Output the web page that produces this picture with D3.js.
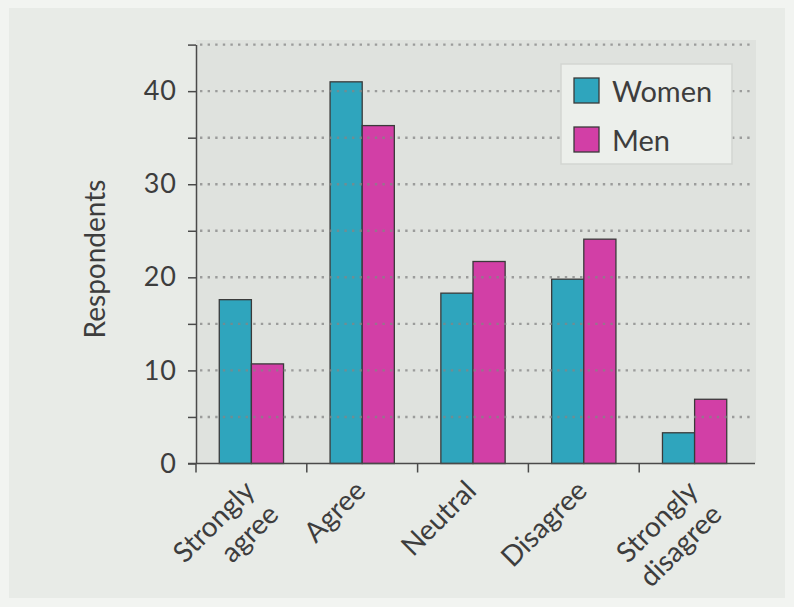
<!DOCTYPE html>
<html>
<head>
<meta charset="utf-8">
<script src="https://cdn.jsdelivr.net/npm/d3@7"></script>
<style>
  body { margin: 0; background: #f2f4f1; }
  text { font-family: Lato, "Open Sans", sans-serif; fill: #3d3d3d; }
</style>
</head>
<body>
<div id="chart"></div>
<script>
//chart data
var categories = ["Strongly agree", "Agree", "Neutral", "Disagree", "Strongly disagree"]
var groups = ["Women", "Men"]
var women = [17.6, 41.0, 18.3, 19.8, 3.3]
var men = [10.7, 36.3, 21.7, 24.1, 6.9]
var yTicks = [0, 5, 10, 15, 20, 25, 30, 35, 40, 45]

var colors = {Women: "#2fa5bd", Men: "#d23fa6"}

var width = 794, height = 607
var margin = {top: 44.6, right: 44, bottom: 143.5, left: 196}

var svg = d3.select("#chart").append("svg")
    .attr("width", width)
    .attr("height", height)

//background and card
svg.append("rect").attr("width", width).attr("height", height).attr("fill", "#f2f4f1")
svg.append("rect").attr("x", 9).attr("y", 8).attr("width", 776).attr("height", 590).attr("fill", "#e8ebe7")

//scales
var y = d3.scaleLinear().domain([0, 45]).range([height - margin.bottom, margin.top])

var xAxisScale = d3.scaleBand().domain(categories).range([196, 750]).padding(0)

var x0 = d3.scaleBand().domain(categories).range([196, 750])
    .paddingInner(0.42).paddingOuter(0.21)

var x1 = d3.scaleBand().domain(groups).range([0, x0.bandwidth()])

//plot area background
svg.append("rect")
    .attr("x", 196).attr("y", 40)
    .attr("width", 560).attr("height", y(0) - 40)
    .attr("fill", "#dfe2de")

//bars
var rows = categories.map(function(c, i) { return {cat: c, Women: women[i], Men: men[i]} })

var barG = svg.append("g")
barG.selectAll("g").data(rows).enter().append("g")
    .attr("transform", function(d) { return "translate(" + x0(d.cat) + ",0)" })
    .selectAll("rect")
    .data(function(d) { return groups.map(function(k) { return {key: k, value: d[k]} }) })
    .enter().append("rect")
    .attr("x", function(d) { return x1(d.key) })
    .attr("y", function(d) { return y(d.value) })
    .attr("width", x1.bandwidth())
    .attr("height", function(d) { return y(0) - y(d.value) })
    .attr("fill", function(d) { return colors[d.key] })
    .attr("stroke", "#3a3a3a")
    .attr("stroke-width", 1.3)

//dotted gridlines over the bars
svg.append("g").selectAll("line")
    .data(yTicks.filter(function(d) { return d > 0 }))
    .enter().append("line")
    .attr("x1", 200).attr("x2", 754)
    .attr("y1", function(d) { return y(d) })
    .attr("y2", function(d) { return y(d) })
    .attr("stroke", "#858585")
    .attr("stroke-width", 2.4)
    .attr("stroke-dasharray", "2.4,5.2")
    .attr("opacity", 0.75)

//y axis
var yAxis = svg.append("g")
    .attr("transform", "translate(196,0)")
    .call(d3.axisLeft(y).tickValues(yTicks).tickSize(8).tickSizeOuter(0).tickPadding(11)
        .tickFormat(function(d) { return d % 10 === 0 ? d : "" }))

yAxis.select(".domain").attr("stroke", "#4a4a4a").attr("stroke-width", 1.5)
yAxis.selectAll(".tick line").attr("stroke", "#4a4a4a").attr("stroke-width", 1.5)
yAxis.selectAll(".tick text")
    .style("font-family", "Lato, sans-serif")
    .style("font-size", "27px")
    .style("letter-spacing", "1px")
    .attr("fill", "#3d3d3d")

//y axis title
svg.append("text")
    .attr("transform", "translate(105," + 259 + ") rotate(-90)")
    .attr("text-anchor", "middle")
    .style("font-size", "28px")
    .text("Respondents")

//x axis line and ticks at band boundaries
svg.append("line")
    .attr("x1", 188).attr("x2", 755)
    .attr("y1", y(0)).attr("y2", y(0))
    .attr("stroke", "#4a4a4a").attr("stroke-width", 1.5)

svg.append("g").selectAll("line")
    .data(categories)
    .enter().append("line")
    .attr("x1", function(d) { return xAxisScale(d) })
    .attr("x2", function(d) { return xAxisScale(d) })
    .attr("y1", y(0)).attr("y2", y(0) + 9)
    .attr("stroke", "#4a4a4a").attr("stroke-width", 1.5)

//category labels, rotated
var labels = svg.append("g").selectAll("text")
    .data(categories)
    .enter().append("text")
    .attr("text-anchor", "end")
    .style("font-size", "28px")
    .attr("transform", function(d) {
        return "translate(" + (xAxisScale(d) + xAxisScale.bandwidth() / 2 + 5) + "," + (y(0) + 29) + ") rotate(-45)"
    })

labels.selectAll("tspan")
    .data(function(d) { return d.split(" ") })
    .enter().append("tspan")
    .attr("x", 0)
    .attr("dy", function(d, i) { return i === 0 ? 0 : "1.2em" })
    .text(function(d) { return d })

//legend
var legend = svg.append("g").attr("transform", "translate(561,64)")

legend.append("rect")
    .attr("width", 171).attr("height", 100)
    .attr("fill", "#ecefeb")
    .attr("stroke", "#d3d6d2").attr("stroke-width", 1.5)

var item = legend.selectAll(".item")
    .data(groups)
    .enter().append("g")
    .attr("class", "item")
    .attr("transform", function(d, i) { return "translate(13," + (14 + i * 49) + ")" })

item.append("rect")
    .attr("width", 25).attr("height", 25)
    .attr("fill", function(d) { return colors[d] })
    .attr("stroke", "#3a3a3a").attr("stroke-width", 1.3)

item.append("text")
    .attr("x", 38).attr("y", 24)
    .style("font-size", "29px")
    .text(function(d) { return d })
</script>
</body>
</html>
